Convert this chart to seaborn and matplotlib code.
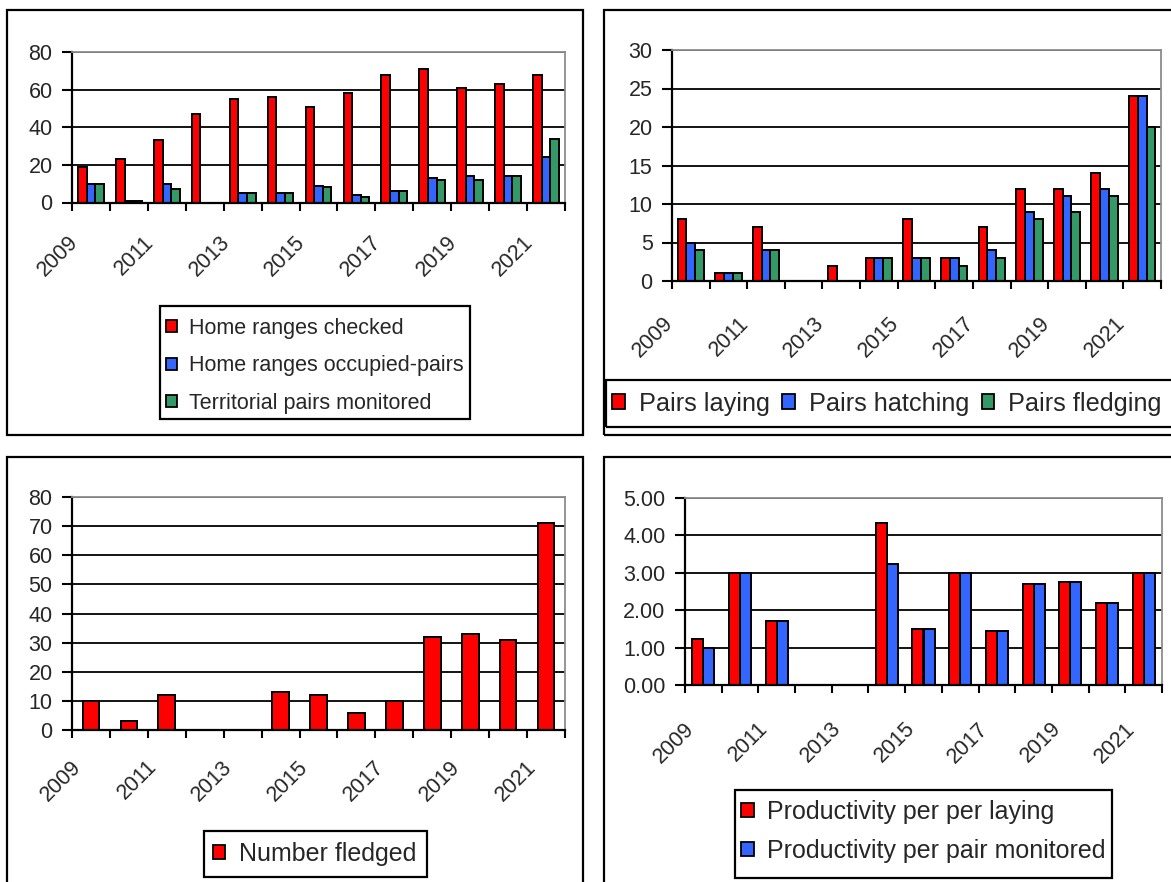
import numpy as np
import pandas as pd
import matplotlib
matplotlib.use("Agg")
import matplotlib.pyplot as plt
import seaborn as sns
from matplotlib.patches import Patch, Rectangle
from matplotlib.ticker import FormatStrFormatter

# ---------------- data ----------------
years = ["2009", "2010", "2011", "2012", "2013", "2014", "2015",
         "2016", "2017", "2018", "2019", "2020", "2021"]
year_tick_labels = ["2009", "2011", "2013", "2015", "2017", "2019", "2021"]

home_ranges_checked = [19, 23, 33, 47, 55, 56, 51, 58, 68, 71, 61, 63, 68]
home_ranges_occupied = [10, 1, 10, 0, 5, 5, 9, 4, 6, 13, 14, 14, 24]
territorial_pairs = [10, 1, 7, 0, 5, 5, 8, 3, 6, 12, 12, 14, 34]

pairs_laying = [8, 1, 7, 0, 2, 3, 8, 3, 7, 12, 12, 14, 24]
pairs_hatching = [5, 1, 4, 0, 0, 3, 3, 3, 4, 9, 11, 12, 24]
pairs_fledging = [4, 1, 4, 0, 0, 3, 3, 2, 3, 8, 9, 11, 20]

number_fledged = [10, 3, 12, 0, 0, 13, 12, 6, 10, 32, 33, 31, 71]

prod_per_laying = [1.23, 3.00, 1.72, 0, 0, 4.33, 1.50, 3.00, 1.44, 2.69, 2.75, 2.20, 3.00]
prod_per_monitored = [1.00, 3.00, 1.72, 0, 0, 3.24, 1.50, 3.00, 1.44, 2.69, 2.75, 2.20, 3.00]

RED, BLUE, GREEN = "#FF0000", "#3366FF", "#339966"

# ---------------- style ----------------
sns.set_style("white")
plt.rcParams["font.family"] = ["Liberation Sans", "DejaVu Sans"]

W, H = 1171, 882
TICK_SIZE = 15.5
fig = plt.figure(figsize=(W / 100, H / 100), dpi=100)


def fx(x):
    return x / W


def fy(y):
    return 1 - y / H


def add_axes_px(x0, y0, x1, y1):
    return fig.add_axes([fx(x0), fy(y1), (x1 - x0) / W, (y1 - y0) / H])


def box_px(x0, y0, x1, y1, lw=1.6):
    fig.add_artist(Rectangle((fx(x0), fy(y1)), (x1 - x0) / W, (y1 - y0) / H,
                             transform=fig.transFigure, fill=False,
                             edgecolor="black", linewidth=lw, clip_on=False))


def long_frame(series):
    rows = []
    for name, vals in series:
        for yr, v in zip(years, vals):
            rows.append({"year": yr, "series": name, "value": v})
    return pd.DataFrame(rows)


def style_axes(ax, ymax, ystep, fmt=None, label_dx=-15, label_dy=-20):
    ax.set_xlim(-0.5, len(years) - 0.5)
    ax.set_ylim(0, ymax)
    ax.set_yticks(np.arange(0, ymax + ystep / 2, ystep))
    if fmt:
        ax.yaxis.set_major_formatter(FormatStrFormatter(fmt))
    ax.set_xticks(np.arange(-0.5, len(years), 1.0))
    ax.set_xticklabels([])
    ax.set_xlabel("")
    ax.set_ylabel("")
    ax.yaxis.grid(True, color="black", linewidth=1.3)
    ax.xaxis.grid(False)
    ax.set_axisbelow(True)
    for side in ("left", "bottom"):
        ax.spines[side].set_color("black")
        ax.spines[side].set_linewidth(1.6)
    for side in ("top", "right"):
        ax.spines[side].set_color("#8c8c8c")
        ax.spines[side].set_linewidth(1.3)
    ax.tick_params(axis="x", length=6, width=1.5, direction="out", color="black")
    ax.tick_params(axis="y", length=7, width=1.5, direction="out", color="black",
                   labelsize=TICK_SIZE, pad=7)
    ax.tick_params(bottom=True, left=True)
    for lab in year_tick_labels:
        i = years.index(lab)
        ax.annotate(lab, xy=(i, 0), xycoords=("data", "axes fraction"),
                    xytext=(label_dx, label_dy), textcoords="offset points",
                    rotation=45, ha="right", va="top", rotation_mode="anchor",
                    fontsize=TICK_SIZE, annotation_clip=False)


def legend_px(handles, labels, x, y, size, ncol=1, loc="upper left",
              spacing=0.6, colspace=0.9):
    fig.legend(handles, labels, loc=loc, bbox_to_anchor=(fx(x), fy(y)),
               bbox_transform=fig.transFigure, frameon=False, ncol=ncol,
               fontsize=size, handlelength=0.5, handleheight=0.5,
               handletextpad=0.55, labelspacing=spacing, columnspacing=colspace,
               borderpad=0, borderaxespad=0)


def patch(c):
    return Patch(facecolor=c, edgecolor="black", linewidth=1.3)


bar_kw = dict(edgecolor="black", linewidth=1.4, saturation=1, legend=False)

# ---------------- panel 1: home ranges ----------------
box_px(7, 10, 583, 435)
ax1 = add_axes_px(72, 52, 565, 202.5)
s1 = [("Home ranges checked", home_ranges_checked),
      ("Home ranges occupied-pairs", home_ranges_occupied),
      ("Territorial pairs monitored", territorial_pairs)]
sns.barplot(data=long_frame(s1), x="year", y="value", hue="series",
            order=years, hue_order=[n for n, _ in s1],
            palette=[RED, BLUE, GREEN], width=0.68, ax=ax1, **bar_kw)
style_axes(ax1, 80, 20, label_dx=-17, label_dy=-21)
box_px(160, 306, 470, 419)
legend_px([patch(RED), patch(BLUE), patch(GREEN)], [n for n, _ in s1],
          166, 318, 15.5, spacing=0.76)

# ---------------- panel 2: breeding pairs ----------------
box_px(604, 10, 1190, 435)
ax2 = add_axes_px(672, 50, 1161, 281)
s2 = [("Pairs laying", pairs_laying),
      ("Pairs hatching", pairs_hatching),
      ("Pairs fledging", pairs_fledging)]
sns.barplot(data=long_frame(s2), x="year", y="value", hue="series",
            order=years, hue_order=[n for n, _ in s2],
            palette=[RED, BLUE, GREEN], width=0.7, ax=ax2, **bar_kw)
style_axes(ax2, 30, 5, label_dx=-20, label_dy=-23)
box_px(606, 380, 1190, 427)
legend_px([patch(RED), patch(BLUE), patch(GREEN)], [n for n, _ in s2],
          612, 403.5, 18.2, ncol=3, loc="center left", colspace=0.5)

# ---------------- panel 3: number fledged ----------------
box_px(7, 457, 583, 900)
ax3 = add_axes_px(72, 497, 565, 730)
sns.barplot(x=years, y=number_fledged, order=years, color=RED, width=0.44,
            ax=ax3, **bar_kw)
style_axes(ax3, 80, 10, label_dx=-15, label_dy=-19)
box_px(204, 831, 427, 877)
legend_px([patch(RED)], ["Number fledged"], 213, 854, 18, loc="center left")

# ---------------- panel 4: productivity ----------------
box_px(604, 457, 1190, 900)
ax4 = add_axes_px(685, 498, 1162, 685)
s4 = [("Productivity per per laying", prod_per_laying),
      ("Productivity per pair monitored", prod_per_monitored)]
sns.barplot(data=long_frame(s4), x="year", y="value", hue="series",
            order=years, hue_order=[n for n, _ in s4],
            palette=[RED, BLUE], width=0.6, ax=ax4, **bar_kw)
style_axes(ax4, 5, 1, fmt="%.2f", label_dx=-14, label_dy=-24)
box_px(735, 790, 1112, 878)
legend_px([patch(RED), patch(BLUE)], [n for n, _ in s4],
          741, 800, 18, spacing=0.6)

fig.savefig("out.png", dpi=100)
